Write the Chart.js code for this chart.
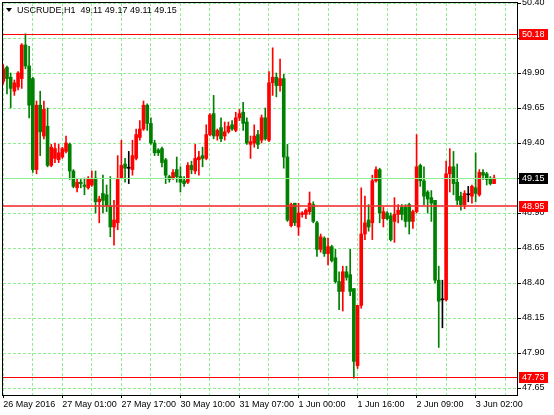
<!DOCTYPE html>
<html>
<head>
<meta charset="utf-8">
<script src="https://cdn.jsdelivr.net/npm/chart.js@4/dist/chart.umd.min.js"></script>
<style>
  html, body { margin: 0; padding: 0; background: #fff; }
  canvas { display: block; }
</style>
</head>
<body>
<canvas id="chart" width="554" height="415"></canvas>
<script>
// USCRUDE H1 candles
const title = 'USCRUDE,H1  49.11 49.17 49.11 49.15';

const open = [
  49.84,49.94,49.87,49.77,49.80,49.86,50.10,49.95,49.86,49.21,
  49.67,49.45,49.52,49.24,49.29,49.28,49.30,49.34,49.39,49.20,
  49.08,49.12,49.10,49.08,49.10,49.15,48.98,49.04,49.03,48.95,
  48.80,48.83,49.15,49.25,49.22,49.21,49.29,49.44,49.50,49.67,
  49.54,49.40,49.35,49.36,49.28,49.16,49.15,
  49.21,49.16,49.13,49.12,49.24,49.20,49.28,49.31,49.29,49.46,
  49.61,49.45,49.51,49.45,49.48,49.53,49.49,49.58,49.62,49.55,
  49.39,49.40,49.46,49.42,49.58,49.42,49.83,49.87,49.81,49.86,
  49.30,48.81,48.97,48.80,48.89,48.89,48.91,48.96,48.83,48.64,
  48.72,48.61,48.66,48.58,48.41,48.34,
  48.48,48.46,48.36,47.81,48.24,48.75,48.85,48.83,49.13,49.21,
  48.86,48.90,48.88,48.84,48.89,48.94,48.94,48.96,48.84,48.91,
  49.24,49.13,49.05,49.01,48.99,48.42,48.28,48.28,49.18,49.23,
  49.12,49.02,48.96,49.03,49.02,49.08,49.03,49.19,49.18,49.14,49.11
];
const high = [
  49.96,49.95,49.90,49.85,49.91,50.11,50.18,50.09,49.87,49.70,
  49.77,49.70,49.65,49.39,49.40,49.39,49.37,49.45,49.40,49.21,
  49.14,49.14,49.15,49.16,49.20,49.20,49.02,49.17,49.10,49.16,
  48.99,49.31,49.42,49.29,49.34,49.42,49.50,49.56,49.70,49.68,
  49.58,49.42,49.36,49.37,49.29,49.17,49.21,
  49.30,49.23,49.16,49.26,49.27,49.39,49.34,49.37,49.53,49.61,
  49.74,49.50,49.58,49.55,49.55,49.56,49.62,49.64,49.69,49.58,
  49.45,49.53,49.49,49.60,49.65,49.91,50.08,49.90,50.00,49.89,
  49.39,48.97,48.97,48.97,48.91,48.93,49.05,48.98,48.84,48.75,
  48.73,48.72,48.67,48.64,48.48,48.52,
  48.52,48.64,48.36,48.24,49.08,49.02,48.96,49.17,49.23,49.22,
  48.94,48.91,48.90,49.01,48.96,48.96,48.96,48.97,48.92,49.46,
  49.25,49.23,49.06,49.06,48.99,48.52,48.42,49.27,49.36,49.34,
  49.25,49.05,49.06,49.09,49.10,49.33,49.21,49.21,49.19,49.16,49.17
];
const low = [
  49.82,49.75,49.65,49.74,49.78,49.79,49.93,49.58,49.19,49.18,
  49.31,49.43,49.23,49.23,49.26,49.26,49.29,49.33,49.14,49.08,
  49.05,49.08,49.03,49.07,49.09,48.90,48.83,48.90,48.91,48.73,
  48.67,48.78,49.15,49.12,49.11,49.17,49.28,49.42,49.49,49.49,
  49.39,49.31,49.31,49.23,49.11,49.12,49.14,
  49.12,49.05,49.09,49.11,49.18,49.18,49.17,49.23,49.28,49.45,
  49.43,49.42,49.41,49.42,49.47,49.49,49.48,49.56,49.49,49.39,
  49.29,49.37,49.36,49.40,49.42,49.41,49.74,49.73,49.77,49.22,
  48.84,48.80,48.81,48.74,48.87,48.86,48.89,48.83,48.59,48.62,
  48.59,48.53,48.55,48.40,48.21,48.20,
  48.42,48.31,47.72,47.79,48.22,48.71,48.77,48.71,49.12,48.83,
  48.80,48.85,48.70,48.69,48.83,48.85,48.80,48.75,48.79,48.90,
  49.09,48.96,48.90,48.84,48.40,47.94,48.08,48.27,49.05,49.03,
  48.96,48.92,48.93,48.98,48.97,48.98,49.02,49.14,49.10,49.10,49.11
];
const close = [
  49.93,49.86,49.79,49.83,49.90,50.10,49.95,49.67,49.21,49.67,
  49.48,49.64,49.24,49.37,49.36,49.33,49.36,49.40,49.20,49.09,
  49.12,49.11,49.09,49.14,49.14,48.98,49.00,48.99,48.95,48.80,
  48.85,49.14,49.24,49.22,49.22,49.31,49.46,49.50,49.67,49.54,
  49.40,49.33,49.33,49.26,49.17,49.14,49.19,
  49.16,49.12,49.11,49.24,49.21,49.29,49.30,49.29,49.46,49.60,
  49.45,49.49,49.43,49.48,49.52,49.50,49.58,49.61,49.54,49.40,
  49.41,49.45,49.39,49.58,49.43,49.83,49.87,49.81,49.86,49.30,
  48.85,48.96,48.83,48.90,48.90,48.92,48.97,48.84,48.64,48.73,
  48.61,48.66,48.56,48.41,48.34,48.48,
  48.44,48.34,47.84,48.24,48.75,48.83,48.80,49.13,49.21,48.90,
  48.91,48.86,48.71,48.89,48.92,48.89,48.84,48.84,48.91,49.23,
  49.13,49.02,49.00,48.97,48.42,48.27,48.28,49.18,49.23,49.11,
  48.99,48.96,49.04,49.03,49.09,49.04,49.19,49.17,49.14,49.11,49.15
];

const timeLabels = ['26 May 2016','27 May 01:00','27 May 17:00','30 May 10:00','31 May 07:00',
                    '1 Jun 00:00','1 Jun 16:00','2 Jun 09:00','3 Jun 02:00'];
const priceTicks = [47.65,47.90,48.15,48.40,48.65,48.90,49.15,49.40,49.65,49.90,50.15,50.40];
const levels = [50.18, 48.95, 47.73];
const bid = 49.15;

const BARS_PER_LABEL = 16;
const BARS_PER_GRID = 8;
const FONT = '"Liberation Sans", Arial, sans-serif';
const UP = '#ff0000', DOWN = '#008000', DOJI = '#000000';
const GRID = '#90ee90';

const candleColor = open.map((o, i) => close[i] > o ? UP : (close[i] < o ? DOWN : DOJI));
const xGrid = [];
for (let i = 0; i < open.length + 4; i += BARS_PER_GRID) xGrid.push(i);

const overlay = {
  id: 'overlay',
  afterDatasetsDraw(chart) {
    const { ctx, chartArea: a, scales: { y } } = chart;
    const w = a.right - a.left;
    ctx.save();
    // bid line
    ctx.fillStyle = GRID;
    ctx.fillRect(a.left, Math.round(y.getPixelForValue(bid)), w, 1);
    // horizontal levels
    levels.forEach(v => {
      const thick = v === 48.95;
      ctx.fillStyle = thick ? 'rgba(240,50,50,0.8)' : '#ff0000';
      const p = Math.round(y.getPixelForValue(v));
      ctx.fillRect(a.left, thick ? p - 1 : p, w, thick ? 2 : 1);
    });
    ctx.restore();
  },
  afterDraw(chart) {
    const { ctx, chartArea: a, scales: { y } } = chart;
    ctx.save();
    // frame
    ctx.strokeStyle = '#000';
    ctx.lineWidth = 1;
    ctx.strokeRect(a.left - 0.5, a.top - 0.5, a.right - a.left + 1, a.bottom - a.top + 1);
    // price boxes
    ctx.font = '9px ' + FONT;
    ctx.textBaseline = 'middle';
    ctx.textAlign = 'left';
    const box = (v, bg) => {
      const p = y.getPixelForValue(v);
      ctx.fillStyle = bg;
      ctx.fillRect(a.right + 2, Math.round(p) - 5, 29, 11);
      ctx.fillStyle = '#fff';
      ctx.fillText(v.toFixed(2), a.right + 5, p + 0.5);
    };
    levels.forEach(v => box(v, '#ff0000'));
    box(bid, '#000');
    // title
    ctx.fillStyle = '#000';
    ctx.beginPath();
    ctx.moveTo(6, 8); ctx.lineTo(12, 8); ctx.lineTo(9, 12); ctx.closePath(); ctx.fill();
    ctx.fillText(title, 17, 10.5);
    ctx.restore();
  }
};

new Chart(document.getElementById('chart'), {
  type: 'bar',
  data: {
    datasets: [
      {
        label: 'wick',
        data: low.map((l, i) => ({ x: i, y: [l, high[i]] })),
        backgroundColor: candleColor,
        barThickness: 1,
        grouped: false,
        borderWidth: 0
      },
      {
        label: 'body',
        data: open.map((o, i) => ({ x: i, y: [o, close[i]] })),
        backgroundColor: candleColor,
        barThickness: 3,
        minBarLength: 1,
        grouped: false,
        borderWidth: 0
      }
    ]
  },
  options: {
    responsive: false,
    animation: false,
    layout: { padding: { left: 3, top: 3, right: 0, bottom: 0 } },
    plugins: { legend: { display: false }, tooltip: { enabled: false } },
    scales: {
      x: {
        type: 'linear',
        offset: false,
        min: -0.08,
        max: 139.21,
        afterBuildTicks: s => { s.ticks = xGrid.map(v => ({ value: v })); },
        afterFit: s => { s.height = 20; s.paddingLeft = 0; s.paddingRight = 0; },
        grid: {
          offset: false,
          color: GRID,
          lineWidth: 1,
          tickLength: 3,
          tickWidth: 1,
          tickBorderDash: [],
          tickColor: c => (c.tick && c.tick.value % BARS_PER_LABEL === 0) ? '#000' : 'rgba(0,0,0,0)'
        },
        border: { display: false, dash: [3, 2] },
        ticks: {
          autoSkip: false,
          maxRotation: 0,
          minRotation: 0,
          align: 'start',
          padding: 1,
          color: '#000',
          font: { family: FONT, size: 9 },
          callback: v => v % BARS_PER_LABEL === 0 ? (timeLabels[v / BARS_PER_LABEL] || '') : ''
        }
      },
      y: {
        position: 'right',
        min: 47.60,
        max: 50.40,
        afterBuildTicks: s => { s.ticks = priceTicks.map(v => ({ value: v })); },
        afterFit: s => { s.width = 37; s.paddingTop = 0; s.paddingBottom = 0; },
        grid: {
          color: GRID,
          lineWidth: 1,
          tickLength: 4,
          tickColor: '#000',
          tickBorderDash: []
        },
        border: { display: false, dash: [3, 2] },
        ticks: {
          padding: 1,
          color: '#000',
          font: { family: FONT, size: 9 },
          callback: v => v.toFixed(2)
        }
      }
    }
  },
  plugins: [overlay]
});
</script>
</body>
</html>
